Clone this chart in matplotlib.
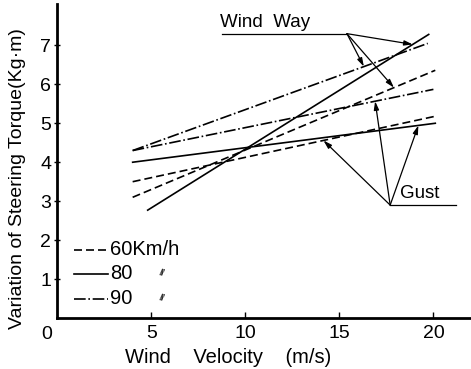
import matplotlib.pyplot as plt

# end points of each torque line: (x0, y0) -> (x1, y1), wind velocity in m/s
wind_way_x = {"60": [4.0, 20.1], "80": [4.8, 19.75], "90": [4.0, 19.7]}
wind_way_y = {"60": [3.1, 6.36], "80": [2.77, 7.28], "90": [4.3, 7.05]}
gust_x = {"60": [4.0, 20.1], "80": [4.0, 20.1], "90": [4.0, 20.0]}
gust_y = {"60": [3.5, 5.18], "80": [4.0, 5.0], "90": [4.3, 5.87]}

legend_labels = ["60Km/h", "80", "90"]
speeds = ["60", "80", "90"]
x_ticks = [5, 10, 15, 20]
y_ticks = [1, 2, 3, 4, 5, 6, 7]

styles = {"60": (0, (4.8, 2.4)), "80": "-", "90": (0, (7, 1.6, 1, 1.6))}

plt.rcParams['font.family'] = ['Liberation Sans', 'DejaVu Sans']

fig = plt.figure(figsize=(4.71, 3.69), dpi=100)
ax = fig.add_axes([0.122, 0.138, 0.878, 0.85])

for s in speeds:
    ax.plot(wind_way_x[s], wind_way_y[s], color="black", lw=1.2,
            linestyle=styles[s])
    ax.plot(gust_x[s], gust_y[s], color="black", lw=1.2,
            linestyle=styles[s])


def y_at(xs, ys, x):
    return ys[0] + (ys[1] - ys[0]) * (x - xs[0]) / (xs[1] - xs[0])


arrow = dict(arrowstyle="-|>,head_length=0.5,head_width=0.15",
             color="black", lw=0.9, shrinkA=0, shrinkB=0)

# "Wind Way" label sitting on its underline, arrows to the three lines
ww_point = (15.4, 7.3)
ax.text(8.65, 7.38, "Wind  Way", fontsize=13.5, ha="left", va="bottom")
ax.plot([8.75, ww_point[0]], [ww_point[1], ww_point[1]], color="black", lw=0.9)
for s, xa in (("80", 18.9), ("90", 16.3), ("60", 17.9)):
    ax.annotate("", xy=(xa, y_at(wind_way_x[s], wind_way_y[s], xa)),
                xytext=ww_point, arrowprops=arrow)

# "Gust" label with arrows
g_point = (17.7, 2.9)
ax.text(18.2, 2.97, "Gust", fontsize=13.5, ha="left", va="bottom")
ax.plot([g_point[0], 21.2], [g_point[1], g_point[1]], color="black", lw=0.9)
for s, xa in (("60", 14.15), ("90", 16.9), ("80", 19.2)):
    ax.annotate("", xy=(xa, y_at(gust_x[s], gust_y[s], xa)),
                xytext=g_point, arrowprops=arrow)

# hand-drawn style legend in the lower left corner
leg_y = [1.76, 1.14, 0.5]
for s, lab, ly in zip(speeds, legend_labels, leg_y):
    ax.plot([0.9, 2.7], [ly, ly], color="black", lw=1.2, linestyle=styles[s])
    ax.text(2.8, ly, lab, fontsize=14.5, ha="left", va="center")
    if s != "60":
        ax.text(5.55, ly, "//", fontsize=6.5, ha="center", va="center",
                fontweight="bold", rotation=-15)

ax.set_xlim(0, 22)
ax.set_ylim(0, 8.05)
ax.set_xticks(x_ticks)
ax.set_yticks(y_ticks)
ax.tick_params(direction="in", length=4, width=1, labelsize=14, pad=5)
ax.tick_params(axis="y", direction="inout", length=5, pad=2)
for side in ("top", "right"):
    ax.spines[side].set_visible(False)
for side in ("left", "bottom"):
    ax.spines[side].set_linewidth(2)

ax.text(-0.3, -0.2, "0", fontsize=14, ha="right", va="top")
ax.set_xlabel("Wind    Velocity    (m/s)", fontsize=14.5)
ax.xaxis.set_label_coords(0.413, -0.094)
ax.set_ylabel("Variation of Steering Torque(Kg·m)", fontsize=14)
ax.yaxis.set_label_coords(-0.076, 0.445)

fig.savefig("out.png", dpi=100)
